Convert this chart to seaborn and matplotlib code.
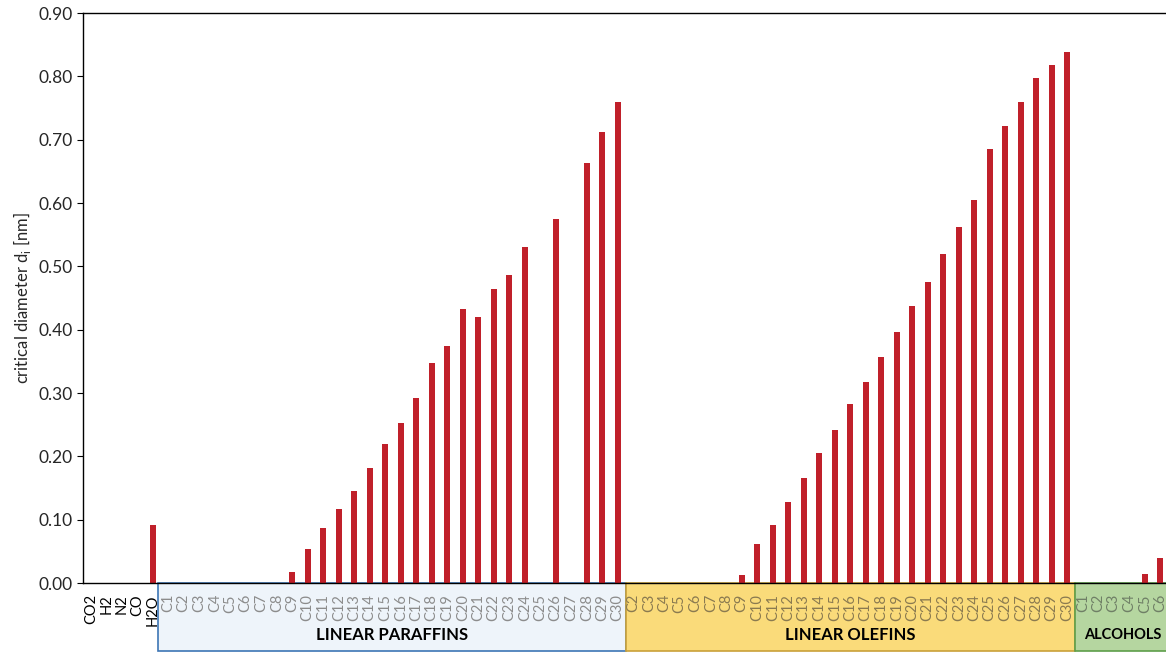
import matplotlib.pyplot as plt
import seaborn as sns
import pandas as pd
from matplotlib.patches import Rectangle

# valores
gases = ['CO2', 'H2', 'N2', 'CO', 'H2O']
gas_d = [0, 0, 0, 0, 0.092]

paraffins = [f'C{i}' for i in range(1, 31)]
paraffin_d = [0, 0, 0, 0, 0, 0, 0, 0,
              0.018, 0.054, 0.087, 0.117, 0.146, 0.181, 0.219, 0.253,
              0.292, 0.347, 0.374, 0.432, 0.420, 0.464, 0.487, 0.531,
              0, 0.575, 0, 0.663, 0.712, 0.760]

olefins = [f'C{i}' for i in range(2, 31)]
olefin_d = [0, 0, 0, 0, 0, 0, 0,
            0.012, 0.061, 0.091, 0.128, 0.166, 0.206, 0.242, 0.282,
            0.317, 0.357, 0.396, 0.438, 0.475, 0.519, 0.562, 0.605,
            0.685, 0.721, 0.759, 0.798, 0.818, 0.838]

alcohols = ['C1', 'C2', 'C3', 'C4', 'C5', 'C6']
alcohol_d = [0, 0, 0, 0, 0.014, 0.039]

groups = [('gas', gases, gas_d), ('LINEAR PARAFFINS', paraffins, paraffin_d),
          ('LINEAR OLEFINS', olefins, olefin_d), ('ALCOHOLS', alcohols, alcohol_d)]

rows = []
for g, names, vals in groups:
    for n, v in zip(names, vals):
        rows.append({'key': f'{g}-{n}', 'label': n, 'group': g, 'd': v})
data = pd.DataFrame(rows)

sns.set_theme(style='ticks')
plt.rcParams['font.family'] = ['Lato', 'DejaVu Sans']

fig = plt.figure(figsize=(11.66, 6.53), dpi=100)
ax = fig.add_axes([83 / 1166, 70 / 653, (1168 - 83) / 1166, 570 / 653])

sns.barplot(data=data, x='key', y='d', color='#C0202A', width=0.36,
            saturation=1, edgecolor='none', ax=ax)

ax.set_ylim(0, 0.9)
ax.set_xlim(-0.5, len(data) - 0.5)
ax.set_yticks([i / 10 for i in range(10)])
ax.set_yticklabels([f'{i / 10:.2f}' for i in range(10)], fontsize=12.5)
ax.set_xlabel('')
ax.set_ylabel('critical diameter d$_\\mathregular{i}$ [nm]', fontsize=12)

ax.set_xticks(range(len(data)))
ax.set_xticklabels(data['label'], rotation=90, fontsize=10.5)
ax.tick_params(axis='x', length=0, pad=8)
ax.tick_params(axis='y', length=4, width=0.8, color='black')
label_colors = {'gas': 'black', 'LINEAR PARAFFINS': '#8c8c8c',
                'LINEAR OLEFINS': '#8a7a50', 'ALCOHOLS': '#6f7f66'}
for t, g in zip(ax.get_xticklabels(), data['group']):
    t.set_color(label_colors[g])

for s in ax.spines.values():
    s.set_color('black')
    s.set_linewidth(1)

# cajas de grupos debajo del eje
box_style = {'LINEAR PARAFFINS': ('#EEF4FA', '#3D76B5'),
             'LINEAR OLEFINS': ('#FADB7A', '#C9A13A'),
             'ALCOHOLS': ('#B5D6A0', '#5E9E4A')}
trans = ax.get_xaxis_transform()
start = 0
for g, names, vals in groups:
    end = start + len(names)
    if g in box_style:
        fc, ec = box_style[g]
        x0 = start - 0.65 if g == 'LINEAR PARAFFINS' else start - 0.5
        ax.add_patch(Rectangle((x0, -0.119), end - 0.5 - x0, 0.119, transform=trans,
                               facecolor=fc, edgecolor=ec, linewidth=1.2,
                               clip_on=False, zorder=0))
        xc = (x0 + end - 0.5) / 2 if g != 'ALCOHOLS' else start + 2.6
        ax.text(xc, -0.091, g, transform=trans, ha='center', va='center',
                fontsize=12 if g != 'ALCOHOLS' else 10.5, fontweight='bold',
                color='black')
    start = end

plt.savefig('out.png', dpi=100)
